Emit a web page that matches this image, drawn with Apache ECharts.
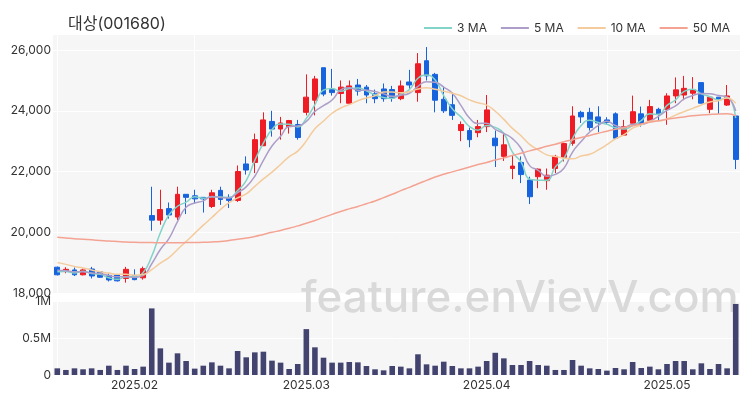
<!DOCTYPE html>
<html><head><meta charset="utf-8">
<script src="https://cdn.jsdelivr.net/npm/echarts@6/dist/echarts.min.js"></script>
<style>html,body{margin:0;padding:0;background:#fff}#c{width:750px;height:400px}</style>
</head><body><div id="c"></div>
<script>
const dates = [
'2025-01-15','2025-01-16','2025-01-17','2025-01-20','2025-01-21','2025-01-22','2025-01-23','2025-01-24','2025-01-31',
'2025-02-03','2025-02-04','2025-02-05','2025-02-06','2025-02-07','2025-02-10','2025-02-11','2025-02-12','2025-02-13','2025-02-14',
'2025-02-17','2025-02-18','2025-02-19','2025-02-20','2025-02-21','2025-02-24','2025-02-25','2025-02-26','2025-02-27','2025-02-28',
'2025-03-03','2025-03-04','2025-03-05','2025-03-06','2025-03-07','2025-03-10','2025-03-11','2025-03-12','2025-03-13','2025-03-14',
'2025-03-17','2025-03-18','2025-03-19','2025-03-20','2025-03-21','2025-03-24','2025-03-25','2025-03-26','2025-03-27','2025-03-28','2025-03-31',
'2025-04-01','2025-04-02','2025-04-03','2025-04-04','2025-04-07','2025-04-08','2025-04-09','2025-04-10','2025-04-11','2025-04-14',
'2025-04-15','2025-04-16','2025-04-17','2025-04-18','2025-04-21','2025-04-22','2025-04-23','2025-04-24','2025-04-25','2025-04-28','2025-04-29',
'2025-05-02','2025-05-07','2025-05-08','2025-05-09','2025-05-12','2025-05-13','2025-05-14','2025-05-15','2025-05-16'
];
const opens = [18850,18740,18760,18600,18790,18700,18580,18590,18480,18580,18500,20550,20400,20780,20500,21250,21200,21150,20850,21380,
21150,21050,22250,22300,22850,23650,23400,23480,23550,23950,24350,25420,24700,24570,24250,24850,24780,24560,24720,24700,
24400,24950,24600,25650,25200,24380,24200,23350,23350,23280,23480,23100,22500,22100,22300,21720,21830,21700,22100,22470,
22930,23950,23950,23800,23700,23900,23200,23590,23900,23680,24050,24050,24490,24520,24580,24930,24050,24450,24190,23830];
const closes = [18600,18780,18600,18760,18560,18520,18430,18400,18780,18440,18800,20400,20750,20570,21250,21150,21100,21100,21300,21080,
21050,22000,22050,23050,23700,23400,23600,23680,23120,24450,25050,24550,24600,24780,24820,24650,24520,24400,24400,24420,
24820,24850,25550,25150,24350,24000,23850,23550,23050,23480,24030,22850,22880,22180,21900,21170,22080,21880,22500,22920,
23830,23800,23450,23600,23620,23100,23480,23970,23590,24140,23900,24490,24690,24740,24690,24250,24450,24380,24490,22400];
const lows = [18580,18650,18560,18580,18480,18500,18380,18380,18340,18420,18440,20050,20250,20450,20400,20600,20950,20650,20800,20900,
20800,21000,21900,21950,22850,23150,23050,23250,23050,23850,23850,24480,24500,24250,24250,24500,24250,24250,24300,24300,
24350,24700,24300,25000,23950,23930,23700,23000,22800,23130,23300,22150,22350,21750,21620,20930,21450,21400,21950,22330,
22850,23600,23350,23300,23540,23080,23170,23540,23480,23640,23680,23540,24250,24350,24380,24250,23920,23900,24160,22080];
const highs = [18870,18850,18840,18800,18860,18720,18640,18600,18860,18780,18870,21500,21400,20980,21500,21250,21400,21150,21400,21500,
21250,22200,22500,23250,23950,24000,23800,23700,23700,25200,25150,25420,25380,25000,25000,25050,24850,24700,24900,24820,
25000,25350,25900,26100,25250,24800,24600,23650,23450,23700,24520,23350,23250,22550,22500,21830,22100,22100,22550,22950,
24150,24000,24100,24150,23790,23950,23700,24500,24140,24360,24100,24580,25100,25150,25110,24930,24450,24450,24850,23830];
const volumes = [90000,68000,90000,77000,90000,68000,126000,68000,126000,81000,113000,900000,360000,167000,293000,189000,86000,126000,171000,126000,
90000,324000,239000,306000,315000,194000,167000,81000,149000,620000,374000,234000,167000,167000,176000,171000,122000,77000,63000,122000,
113000,90000,280000,144000,126000,180000,122000,90000,90000,113000,189000,300000,225000,135000,135000,189000,135000,126000,68000,68000,
203000,126000,90000,81000,59000,95000,77000,176000,95000,113000,77000,149000,189000,189000,77000,158000,81000,149000,90000,960000];
// closes before the visible window (needed for the short moving averages at the left edge)
const priorCloses = [19350,19300,19250,19200,19150,18850,18800,18750,18750];
// 50-day average
const ma50 = [19840,19815,19790,19770,19750,19730,19710,19695,19680,19670,19665,19660,19655,19655,19655,19660,19665,19670,19680,19695,
19730,19770,19810,19860,19930,20000,20060,20130,20210,20295,20390,20490,20590,20685,20770,20850,20940,21030,21140,21250,
21370,21480,21600,21710,21820,21910,21990,22070,22150,22230,22300,22380,22450,22530,22600,22680,22750,22830,22900,22980,
23050,23120,23190,23260,23330,23390,23450,23510,23570,23620,23670,23720,23760,23800,23835,23860,23880,23895,23900,23840];
const legendNames = ['3 MA','5 MA','10 MA','50 MA'];
const yTicks = [18000,20000,22000,24000,26000];

function movingAvg(n){
  const all = priorCloses.concat(closes);
  const off = priorCloses.length;
  return closes.map((_, i) => {
    let s = 0;
    for (let k = 0; k < n; k++) s += all[off + i - k];
    return Math.round(s / n);
  });
}
function isMonthStart(i){
  return i > 0 && dates[i].slice(0,7) !== dates[i-1].slice(0,7);
}

const FONT = 'Inter, "Noto Sans CJK KR", sans-serif';
const candleData = dates.map((_, i) => [opens[i], closes[i], lows[i], highs[i]]);
const splitLine = {show:true, interval:15, alignWithLabel:true, lineStyle:{color:'#ffffff', width:1}};

const chart = echarts.init(document.getElementById('c'), null, {renderer:'canvas'});
chart.setOption({
  animation:false,
  backgroundColor:'#ffffff',
  textStyle:{fontFamily:FONT},
  title:{text:'대상(001680)', left:63, top:11, textStyle:{fontFamily:FONT, fontSize:16, fontWeight:'normal', color:'#333'}},
  legend:{data:legendNames, right:15, top:17, icon:'rect', itemWidth:28, itemHeight:2, itemGap:14,
    textStyle:{fontFamily:FONT, fontSize:12, color:'#333'}},
  grid:[
    {left:53, right:10, top:34, height:259, show:true, backgroundColor:'#f6f6f6', borderWidth:0, outerBoundsMode:'none'},
    {left:53, right:10, top:301, height:74, show:true, backgroundColor:'#f6f6f6', borderWidth:0, outerBoundsMode:'none'}
  ],
  graphic:[{type:'text', left:301, top:277, z:1, silent:true,
    style:{text:'feature.enVievV.com', font:'500 44px Inter', fill:'#d9d9d9'}}],
  xAxis:[
    {type:'category', gridIndex:0, data:dates, boundaryGap:true, axisLine:{show:false}, axisTick:{show:false},
      axisLabel:{show:false}, splitLine:splitLine},
    {type:'category', gridIndex:1, data:dates, boundaryGap:true, axisLine:{show:false}, axisTick:{show:false},
      axisLabel:{interval:(i) => isMonthStart(i), formatter:(v) => v.slice(0,7).replace('-', '.'),
        color:'#333', fontSize:12, margin:4, fontFamily:FONT}, splitLine:splitLine}
  ],
  yAxis:[
    {type:'value', gridIndex:0, min:yTicks[0], max:26530, interval:2000, axisLine:{show:false}, axisTick:{show:false},
      axisLabel:{formatter:(v) => yTicks.includes(v) ? v.toLocaleString('en-US') : '', color:'#333', fontSize:12, margin:2, fontFamily:FONT},
      splitLine:{lineStyle:{color:'#ffffff', width:1}}},
    {type:'value', gridIndex:1, min:0, max:1000000, interval:500000, axisLine:{show:false}, axisTick:{show:false},
      axisLabel:{formatter:(v) => v === 0 ? '0' : (v/1e6) + 'M', color:'#333', fontSize:12, margin:2, fontFamily:FONT},
      splitLine:{lineStyle:{color:'#ffffff', width:1}}}
  ],
  series:[
    {type:'candlestick', name:'price', xAxisIndex:0, yAxisIndex:0, data:candleData, barWidth:'62%',
      itemStyle:{color:'#ee1c24', color0:'#1763de', borderColor:'#ee1c24', borderColor0:'#1763de', borderWidth:1}},
    {type:'line', name:'3 MA', xAxisIndex:0, yAxisIndex:0, data:movingAvg(3), smooth:true, showSymbol:false,
      color:'#84d3c9', lineStyle:{width:1.5, color:'#84d3c9'}},
    {type:'line', name:'5 MA', xAxisIndex:0, yAxisIndex:0, data:movingAvg(5), smooth:true, showSymbol:false,
      color:'#ac9ec8', lineStyle:{width:1.5, color:'#ac9ec8'}},
    {type:'line', name:'10 MA', xAxisIndex:0, yAxisIndex:0, data:movingAvg(10), smooth:true, showSymbol:false,
      color:'#f4cb9c', lineStyle:{width:1.5, color:'#f4cb9c'}},
    {type:'line', name:'50 MA', xAxisIndex:0, yAxisIndex:0, data:ma50, smooth:true, showSymbol:false,
      color:'#f4a393', lineStyle:{width:1.5, color:'#f4a393'}},
    {type:'bar', name:'volume', xAxisIndex:1, yAxisIndex:1, data:volumes, barWidth:'65%', itemStyle:{color:'#434370'}}
  ]
});
</script>
</body></html>
